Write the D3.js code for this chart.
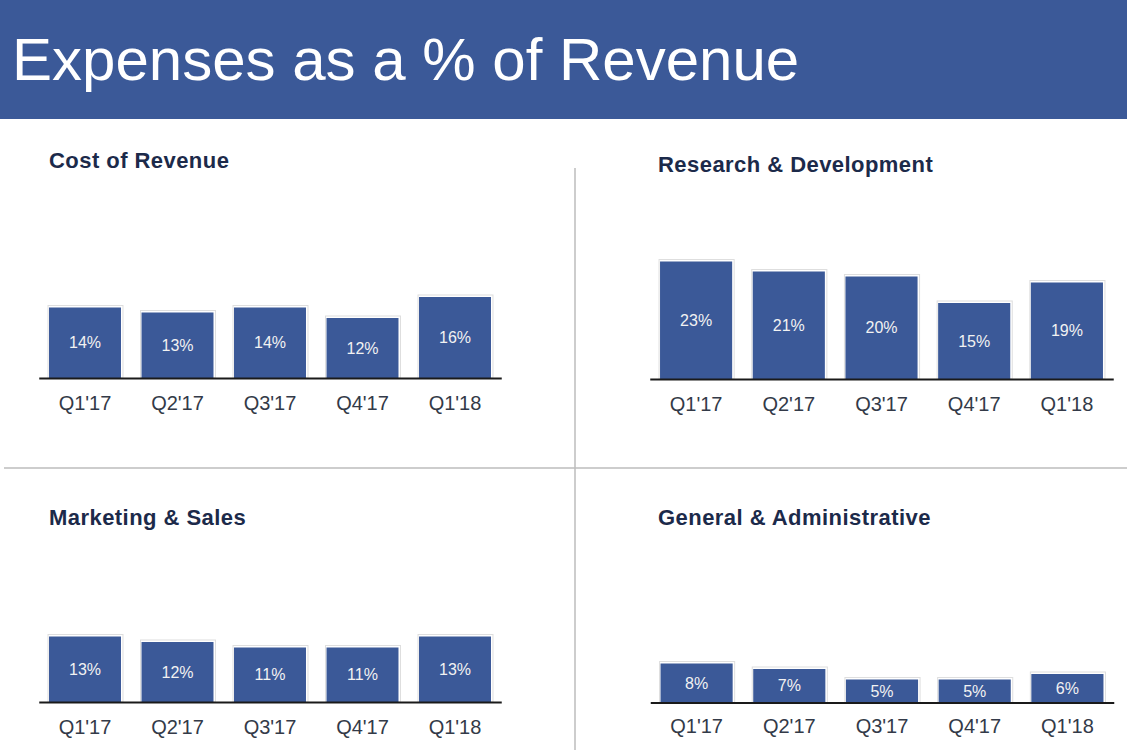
<!DOCTYPE html>
<html><head><meta charset="utf-8">
<script src="https://cdn.jsdelivr.net/npm/d3@7"></script>
<style>html,body{margin:0;padding:0;background:#fff;}svg{display:block;}</style>
</head><body>
<svg id="c" width="1127" height="750"></svg>
<script>
const title = "Expenses as a % of Revenue";
const quarters = ["Q1'17", "Q2'17", "Q3'17", "Q4'17", "Q1'18"];
const panelTitles = ["Cost of Revenue", "Research & Development", "Marketing & Sales", "General & Administrative"];
const costOfRevenue = [14.1, 13.1, 14.1, 12.0, 16.2];
const researchDev = [23.5, 21.5, 20.5, 15.2, 19.3];
const marketingSales = [13.1, 12.0, 10.9, 10.9, 13.1];
const generalAdmin = [7.8, 6.7, 4.6, 4.6, 5.7];
const costLabels = ["14%", "13%", "14%", "12%", "16%"];
const rdLabels = ["23%", "21%", "20%", "15%", "19%"];
const msLabels = ["13%", "12%", "11%", "11%", "13%"];
const gaLabels = ["8%", "7%", "5%", "5%", "6%"];

const svg = d3.select("#c");
const blue = "#3b5998";
const font = "'Liberation Sans', Arial, sans-serif";

svg.append("rect").attr("x",0).attr("y",0).attr("width",1127).attr("height",119).attr("fill",blue);
svg.append("text").attr("x",12).attr("y",80).attr("fill","#fff")
  .attr("font-family",font).attr("font-size",60).text(title);

// dividers
svg.append("line").attr("x1",4).attr("x2",1127).attr("y1",468).attr("y2",468)
  .attr("stroke","#bdbdbd").attr("stroke-width",1.5);
svg.append("line").attr("x1",575).attr("x2",575).attr("y1",168).attr("y2",750)
  .attr("stroke","#bdbdbd").attr("stroke-width",1.5);

const panels = [
  {values: costOfRevenue, labels: costLabels, title: panelTitles[0], tx: 49, ty: 168, x0: 38.75, x1: 501.25, base: 378, lab: 409.5},
  {values: researchDev, labels: rdLabels, title: panelTitles[1], tx: 658, ty: 172, x0: 649.75, x1: 1113.25, base: 379, lab: 411},
  {values: marketingSales, labels: msLabels, title: panelTitles[2], tx: 49, ty: 525, x0: 38.75, x1: 501.25, base: 702, lab: 733.5},
  {values: generalAdmin, labels: gaLabels, title: panelTitles[3], tx: 658, ty: 525, x0: 650.25, x1: 1113.75, base: 702.5, lab: 732.5}
];

panels.forEach(p => {
  const g = svg.append("g");
  g.append("text").attr("x",p.tx).attr("y",p.ty).attr("fill","#1c2a4a")
    .attr("font-family",font).attr("font-weight","bold").attr("font-size",22)
    .attr("letter-spacing",0.45).text(p.title);
  const x = d3.scaleBand().domain(quarters).range([p.x0, p.x1]).paddingInner(0.222).paddingOuter(0.111);
  const y = d3.scaleLinear().domain([0, 30]).range([p.base, p.base - 150]);
  const data = quarters.map((q,i) => ({q, v: p.values[i], l: p.labels[i]}));
  // light shadow outline
  g.selectAll("rect.sh").data(data).enter().append("rect").attr("class","sh")
    .attr("x", d => x(d.q) - 1).attr("y", d => y(d.v) - 2)
    .attr("width", x.bandwidth() + 3).attr("height", d => p.base - y(d.v) + 2)
    .attr("fill","#fff").attr("stroke","#dedede").attr("stroke-width",1);
  g.selectAll("rect.bar").data(data).enter().append("rect").attr("class","bar")
    .attr("x", d => x(d.q)).attr("y", d => y(d.v))
    .attr("width", x.bandwidth()).attr("height", d => p.base - y(d.v))
    .attr("fill", blue);
  g.selectAll("text.vl").data(data).enter().append("text").attr("class","vl")
    .attr("x", d => x(d.q) + x.bandwidth()/2).attr("y", d => (y(d.v) + p.base)/2 + 5.5)
    .attr("text-anchor","middle").attr("fill","#f2f2f2")
    .attr("font-family",font).attr("font-size",16).text(d => d.l);
  // axis
  const ax = g.append("g").attr("transform", `translate(0,${p.base})`)
    .call(d3.axisBottom(x).tickSize(0).tickSizeOuter(0).tickPadding(0));
  ax.select(".domain").attr("stroke","#1a1a1a").attr("stroke-width",2);
  ax.selectAll(".tick text").attr("font-family",font).attr("font-size",20)
    .attr("fill","#333a48").attr("dy",null).attr("y", p.lab - p.base);
});
</script>
</body></html>
